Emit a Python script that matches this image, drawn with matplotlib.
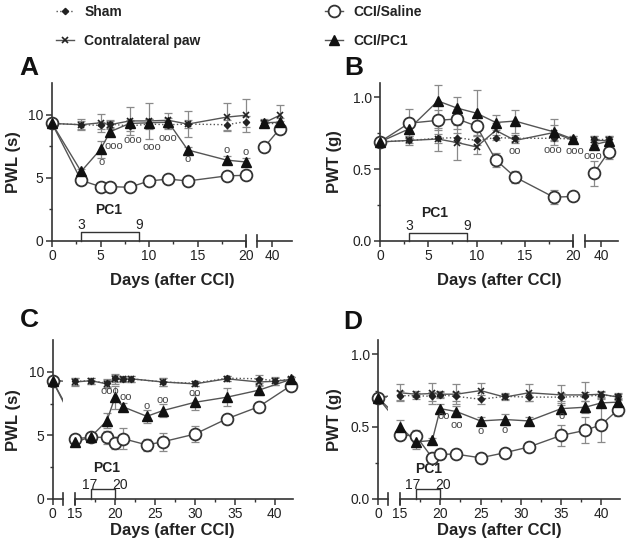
import matplotlib
matplotlib.use('Agg')
import matplotlib.pyplot as plt
from matplotlib.lines import Line2D

plt.rcParams['font.family'] = ['Liberation Sans', 'DejaVu Sans']

# ---------------- data ----------------
# Panel A (PWL, s)
daysA = [0, 3, 5, 6, 8, 10, 12, 14, 18, 20]
daysA2 = [38, 42]
shamA = [9.3, 9.2, 9.15, 9.25, 9.1, 9.25, 9.2, 9.25, 9.2, 9.45]
shamA2 = [9.3, 9.3]
shamA_err = [0.15, 0.3, 0.3, 0.3, 0.4, 0.4, 0.3, 0.3, 0.4, 0.4]
shamA2_err = [0.2, 0.2]
contraA = [9.3, 9.2, 9.35, 9.2, 9.5, 9.5, 9.55, 9.25, 9.8, 9.95]
contraA2 = [9.35, 9.95]
contraA_err = [0.15, 0.45, 0.7, 0.3, 1.1, 1.45, 0.6, 1.0, 1.1, 1.3]
contraA2_err = [0.3, 0.8]
salineA = [9.3, 4.8, 4.3, 4.3, 4.25, 4.75, 4.9, 4.75, 5.15, 5.2]
salineA2 = [7.4, 8.9]
salineA_err = [0.15, 0.15, 0.12, 0.12, 0.12, 0.15, 0.15, 0.12, 0.25, 0.2]
salineA2_err = [0.2, 0.3]
pc1A = [9.3, 5.5, 7.25, 8.65, 9.3, 9.35, 9.4, 7.2, 6.4, 6.25]
pc1A2 = [9.35, 9.4]
pc1A_err = [0.15, 0.2, 0.7, 0.35, 0.3, 0.3, 0.3, 0.25, 0.3, 0.35]
pc1A2_err = [0.2, 0.3]
annA_x = [5.1, 6.4, 8.3, 10.3, 11.9, 14.0, 18.0, 20.0]
annA_y = [6.25, 7.5, 7.97, 7.45, 8.15, 6.45, 7.2, 7.05]
annA_t = ['o', 'ooo', 'ooo', 'ooo', 'ooo', 'o', 'o', 'o']

# Panel B (PWT, g)
daysB = [0, 3, 6, 8, 10, 12, 14, 18, 20]
daysB2 = [38, 42]
shamB = [0.69, 0.70, 0.715, 0.72, 0.70, 0.72, 0.715, 0.715, 0.71]
shamB2 = [0.71, 0.71]
shamB_err = [0.02, 0.02, 0.03, 0.03, 0.03, 0.02, 0.02, 0.02, 0.02]
shamB2_err = [0.02, 0.02]
contraB = [0.69, 0.70, 0.71, 0.685, 0.655, 0.77, 0.70, 0.755, 0.70]
contraB2 = [0.70, 0.70]
contraB_err = [0.02, 0.03, 0.08, 0.12, 0.05, 0.05, 0.02, 0.05, 0.02]
contraB2_err = [0.03, 0.03]
salineB = [0.69, 0.82, 0.84, 0.85, 0.80, 0.565, 0.445, 0.305, 0.31]
salineB2 = [0.47, 0.62]
salineB_err = [0.02, 0.1, 0.07, 0.07, 0.06, 0.05, 0.04, 0.05, 0.03]
salineB2_err = [0.09, 0.05]
pc1B = [0.69, 0.78, 0.975, 0.925, 0.89, 0.825, 0.835, 0.76, 0.71]
pc1B2 = [0.67, 0.695]
pc1B_err = [0.02, 0.05, 0.11, 0.08, 0.16, 0.05, 0.08, 0.09, 0.02]
pc1B2_err = [0.03, 0.03]
annB_x = [14.0, 17.9, 20.2]
annB_y = [0.63, 0.632, 0.625]
annB_t = ['oo', 'ooo', 'ooo']
annB2_x = [37.8]
annB2_y = [0.59]
annB2_t = ['ooo']

# Panel C (PWL, s)
daysC_ctl = [0, 15, 17, 19, 20, 21, 22, 26, 30, 34, 38, 40, 42]
shamC = [9.3, 9.25, 9.3, 9.1, 9.5, 9.45, 9.45, 9.2, 9.1, 9.5, 9.45, 9.3, 9.4]
shamC_err = [0.15, 0.3, 0.25, 0.3, 0.3, 0.2, 0.25, 0.3, 0.2, 0.2, 0.3, 0.3, 0.2]
contraC = [9.3, 9.2, 9.3, 9.05, 9.4, 9.4, 9.45, 9.2, 9.05, 9.45, 9.2, 9.25, 9.4]
contraC_err = [0.15, 0.3, 0.25, 0.3, 0.35, 0.2, 0.25, 0.3, 0.2, 0.2, 0.3, 0.3, 0.2]
daysC = [0, 15, 17, 19, 20, 21, 24, 26, 30, 34, 38, 42]
salineC = [9.3, 4.75, 4.85, 4.85, 4.4, 4.75, 4.25, 4.5, 5.1, 6.3, 7.25, 8.9]
salineC_err = [0.15, 0.25, 0.2, 0.5, 0.5, 0.8, 0.5, 0.7, 0.6, 0.3, 0.3, 0.3]
pc1C = [9.3, 4.45, 4.9, 6.15, 8.0, 7.25, 6.5, 6.95, 7.6, 8.0, 8.55, 9.4]
pc1C_err = [0.15, 0.2, 0.2, 0.6, 0.9, 0.3, 0.5, 0.5, 0.6, 0.7, 0.4, 0.2]
annC_x = [19.4, 21.3, 24.0, 26.0, 30.0]
annC_y = [8.5, 8.0, 7.35, 7.75, 8.35]
annC_t = ['ooo', 'oo', 'o', 'oo', 'oo']

# Panel D (PWT, g)
daysD = [0, 15, 17, 19, 20, 22, 25, 28, 31, 35, 38, 40, 42]
shamD = [0.70, 0.715, 0.715, 0.71, 0.72, 0.71, 0.69, 0.71, 0.705, 0.705, 0.71, 0.72, 0.71]
shamD_err = [0.01, 0.03, 0.02, 0.03, 0.02, 0.03, 0.03, 0.02, 0.03, 0.03, 0.03, 0.02, 0.02]
contraD = [0.70, 0.735, 0.725, 0.73, 0.725, 0.725, 0.75, 0.705, 0.735, 0.72, 0.72, 0.725, 0.705]
contraD_err = [0.01, 0.06, 0.02, 0.07, 0.02, 0.07, 0.05, 0.02, 0.06, 0.07, 0.09, 0.02, 0.02]
salineD = [0.70, 0.445, 0.435, 0.285, 0.31, 0.31, 0.285, 0.32, 0.36, 0.44, 0.475, 0.515, 0.615]
salineD_err = [0.01, 0.04, 0.04, 0.02, 0.03, 0.02, 0.02, 0.02, 0.03, 0.07, 0.09, 0.12, 0.04]
pc1D = [0.70, 0.50, 0.395, 0.405, 0.625, 0.605, 0.54, 0.55, 0.54, 0.625, 0.635, 0.665, 0.67]
pc1D_err = [0.01, 0.05, 0.05, 0.02, 0.03, 0.04, 0.03, 0.04, 0.03, 0.04, 0.04, 0.03, 0.03]
annD_x = [20.4, 22.0, 25.0, 28.0, 35.0]
annD_y = [0.572, 0.515, 0.471, 0.476, 0.572]
annD_t = ['oo', 'oo', 'o', 'o', 'o']

labels = ['Sham', 'Contralateral paw', 'CCI/Saline', 'CCI/PC1']

# ---------------- styles ----------------
LINE = '#555555'
STY = {
    'sham': dict(ls=':', marker='D', ms=3.2, mfc='#222222', mec='#222222'),
    'contra': dict(ls='-', marker='x', ms=5, mec='#222222', mew=1.2),
    'saline': dict(ls='-', marker='o', ms=8.5, mfc='white', mec='#333333', mew=1.3),
    'pc1': dict(ls='-', marker='^', ms=7, mfc='#111111', mec='#111111'),
}
ORDER = {'sham': 5, 'contra': 5.5, 'saline': 6, 'pc1': 7}

W, H = 629, 556
fig = plt.figure(figsize=(W / 100, H / 100), dpi=100)


def add_ax(l, r, top, bot):
    return fig.add_axes([l / W, (H - bot) / H, (r - l) / W, (bot - top) / H])


def series(ax, x, y, e, key, xlim):
    st = STY[key]
    inside = [i for i, v in enumerate(x) if xlim[0] - 1e-9 <= v <= xlim[1] + 1e-9]
    xi = [x[i] for i in inside]
    yi = [y[i] for i in inside]
    ei = [e[i] for i in inside]
    if xi:
        c = ax.errorbar(xi, yi, yerr=ei, fmt='none', ecolor='#8a8a8a',
                        elinewidth=0.9, capsize=3, capthick=0.9, zorder=2)
        for a in list(c.lines[1]) + list(c.lines[2]):
            a.set_clip_on(False)
    ax.plot(x, y, color=LINE, lw=1.0, ls=st['ls'], zorder=3, clip_on=True)
    if xi:
        kw = {k: v for k, v in st.items() if k != 'ls'}
        ax.plot(xi, yi, ls='none', zorder=ORDER[key], clip_on=False, **kw)


def style_ax(ax, left_spine=True):
    for s in ['top', 'right']:
        ax.spines[s].set_visible(False)
    for s in ['left', 'bottom']:
        ax.spines[s].set_linewidth(1.2)
        ax.spines[s].set_color('#333333')
    ax.tick_params(which='major', direction='out', length=4, width=1.1,
                   color='#333333', labelsize=10, pad=2, labelcolor='#222222')
    ax.tick_params(which='minor', direction='out', length=2.5, width=1.0,
                   color='#333333')
    if not left_spine:
        ax.spines['left'].set_visible(False)
        ax.set_yticks([])
    ax.patch.set_alpha(0)


def cap(ax, side):
    ax.plot([side, side], [-0.035, 0.035], transform=ax.transAxes,
            color='#333333', lw=1.2, clip_on=False, zorder=10)


def annotate(ax, xs, ys, ts):
    for xv, yv, t in zip(xs, ys, ts):
        ax.text(xv, yv, t, fontsize=8, color='#444444', ha='center',
                va='center', clip_on=False, zorder=8)


def bracket(ax, x0, x1, h, ty, py, pcx, l0, l1, lx0, lx1):
    ax.plot([x0, x0, x1, x1], [0, h, h, 0], color='#333333', lw=1.0,
            clip_on=False, zorder=4)
    ax.text(lx0, ty, l0, fontsize=10, ha='center', va='center', color='#222222')
    ax.text(lx1, ty, l1, fontsize=10, ha='center', va='center', color='#222222')
    ax.text(pcx, py, 'PC1', fontsize=10, fontweight='bold', ha='center',
            va='center', color='#222222')


# ---------------- Panel A ----------------
A1xl, A2xl = (0, 20), (36.25, 45)
axA1 = add_ax(52, 246, 83, 241)
axA2 = add_ax(257, 292, 83, 241)
for ax, xl in [(axA1, A1xl), (axA2, A2xl)]:
    ax.set_xlim(*xl)
    ax.set_ylim(0, 12.5)
style_ax(axA1)
style_ax(axA2, left_spine=False)
axA1.set_xticks([0, 5, 10, 15, 20])
axA1.set_xticks([2.5, 7.5, 12.5, 17.5], minor=True)
axA1.set_yticks([0, 5, 10])
axA1.set_yticks([2.5, 7.5], minor=True)
axA2.set_xticks([40])
cap(axA1, 1)
cap(axA2, 0)
series(axA1, daysA, shamA, shamA_err, 'sham', A1xl)
series(axA1, daysA, contraA, contraA_err, 'contra', A1xl)
series(axA1, daysA, salineA, salineA_err, 'saline', A1xl)
series(axA1, daysA, pc1A, pc1A_err, 'pc1', A1xl)
series(axA2, daysA2, shamA2, shamA2_err, 'sham', A2xl)
series(axA2, daysA2, contraA2, contraA2_err, 'contra', A2xl)
series(axA2, daysA2, salineA2, salineA2_err, 'saline', A2xl)
series(axA2, daysA2, pc1A2, pc1A2_err, 'pc1', A2xl)
annotate(axA1, annA_x, annA_y, annA_t)
bracket(axA1, 3, 9, 0.73, 1.3, 2.45, 5.8, '3', '9', 3, 9)

# ---------------- Panel B ----------------
B1xl, B2xl = (0, 20), (35.7, 44.5)
axB1 = add_ax(380, 573, 83, 241)
axB2 = add_ax(585, 618, 83, 241)
for ax, xl in [(axB1, B1xl), (axB2, B2xl)]:
    ax.set_xlim(*xl)
    ax.set_ylim(0, 1.1)
style_ax(axB1)
style_ax(axB2, left_spine=False)
axB1.set_xticks([0, 5, 10, 15, 20])
axB1.set_xticks([2.5, 7.5, 12.5, 17.5], minor=True)
axB1.set_yticks([0, 0.5, 1.0])
axB1.set_yticklabels(['0.0', '0.5', '1.0'])
axB1.set_yticks([0.25, 0.75], minor=True)
axB2.set_xticks([40])
cap(axB1, 1)
cap(axB2, 0)
series(axB1, daysB, shamB, shamB_err, 'sham', B1xl)
series(axB1, daysB, contraB, contraB_err, 'contra', B1xl)
series(axB1, daysB, salineB, salineB_err, 'saline', B1xl)
series(axB1, daysB, pc1B, pc1B_err, 'pc1', B1xl)
series(axB2, daysB2, shamB2, shamB2_err, 'sham', B2xl)
series(axB2, daysB2, contraB2, contraB2_err, 'contra', B2xl)
series(axB2, daysB2, salineB2, salineB2_err, 'saline', B2xl)
series(axB2, daysB2, pc1B2, pc1B2_err, 'pc1', B2xl)
annotate(axB1, annB_x, annB_y, annB_t)
annotate(axB2, annB2_x, annB2_y, annB2_t)
bracket(axB1, 3, 9, 0.057, 0.105, 0.195, 5.7, '3', '9', 3, 9)

# ---------------- Panel C ----------------
C1xl, C2xl = (0, 5), (15, 42.3)
axC1 = add_ax(52.5, 63, 340, 499)
axC2 = add_ax(75, 293, 340, 499)
for ax, xl in [(axC1, C1xl), (axC2, C2xl)]:
    ax.set_xlim(*xl)
    ax.set_ylim(0, 12.5)
style_ax(axC1)
style_ax(axC2, left_spine=False)
axC1.set_xticks([0])
axC1.set_yticks([0, 5, 10])
axC1.set_yticks([2.5, 7.5], minor=True)
axC2.set_xticks([15, 20, 25, 30, 35, 40])
axC2.set_xticks([17.5, 22.5, 27.5, 32.5, 37.5], minor=True)
cap(axC1, 1)
cap(axC2, 0)
for ax, xl in [(axC1, C1xl), (axC2, C2xl)]:
    series(ax, daysC_ctl, shamC, shamC_err, 'sham', xl)
    series(ax, daysC_ctl, contraC, contraC_err, 'contra', xl)
    series(ax, daysC, salineC, salineC_err, 'saline', xl)
    series(ax, daysC, pc1C, pc1C_err, 'pc1', xl)
annotate(axC2, annC_x, annC_y, annC_t)
bracket(axC2, 17, 20, 0.76, 1.1, 2.4, 19.0, '17', '20', 16.9, 20.6)

# ---------------- Panel D ----------------
D1xl, D2xl = (0, 5), (15, 42.3)
axD1 = add_ax(378, 388, 340, 499)
axD2 = add_ax(400, 620, 340, 499)
for ax, xl in [(axD1, D1xl), (axD2, D2xl)]:
    ax.set_xlim(*xl)
    ax.set_ylim(0, 1.1)
style_ax(axD1)
style_ax(axD2, left_spine=False)
axD1.set_xticks([0])
axD1.set_yticks([0, 0.5, 1.0])
axD1.set_yticklabels(['0.0', '0.5', '1.0'])
axD1.set_yticks([0.25, 0.75], minor=True)
axD2.set_xticks([15, 20, 25, 30, 35, 40])
axD2.set_xticks([17.5, 22.5, 27.5, 32.5, 37.5], minor=True)
cap(axD1, 1)
cap(axD2, 0)
for ax, xl in [(axD1, D1xl), (axD2, D2xl)]:
    series(ax, daysD, shamD, shamD_err, 'sham', xl)
    series(ax, daysD, contraD, contraD_err, 'contra', xl)
    series(ax, daysD, salineD, salineD_err, 'saline', xl)
    series(ax, daysD, pc1D, pc1D_err, 'pc1', xl)
annotate(axD2, annD_x, annD_y, annD_t)
bracket(axD2, 17, 20, 0.067, 0.097, 0.21, 18.5, '17', '20', 16.6, 20.4)

# ---------------- labels ----------------
def ftext(x, y, s, **kw):
    fig.text(x / W, (H - y) / H, s, **kw)

lab = dict(fontsize=12, fontweight='bold', ha='center', va='center', color='#222222')
ftext(14, 162, 'PWL (s)', rotation=90, **lab)
ftext(334, 162, 'PWT (g)', rotation=90, **lab)
ftext(14, 420, 'PWL (s)', rotation=90, **lab)
ftext(334, 420, 'PWT (g)', rotation=90, **lab)
ftext(172, 281, 'Days (after CCI)', **lab)
ftext(499, 281, 'Days (after CCI)', **lab)
ftext(172, 531, 'Days (after CCI)', **lab)
ftext(499, 531, 'Days (after CCI)', **lab)

pl = dict(fontsize=19, fontweight='bold', ha='center', va='center', color='#111111')
ftext(29, 68, 'A', **pl)
ftext(354, 68, 'B', **pl)
ftext(29, 320, 'C', **pl)
ftext(353, 322, 'D', **pl)

# ---------------- legend ----------------
def handle(key, label):
    st = STY[key]
    return Line2D([], [], color=LINE, lw=1.0, label=label, **st)

keys = ['sham', 'contra', 'saline', 'pc1']
hs = [handle(k, l) for k, l in zip(keys, labels)]
legkw = dict(frameon=False, loc='upper left', borderpad=0, borderaxespad=0,
             handlelength=1.3, handletextpad=0.75, labelspacing=1.05,
             prop={'weight': 'bold', 'size': 10})
leg1 = fig.legend(handles=hs[:2], bbox_to_anchor=(56 / W, (H - 5) / H), **legkw)
leg2 = fig.legend(handles=hs[2:], bbox_to_anchor=(325 / W, (H - 5) / H), **legkw)
for lg in (leg1, leg2):
    for t in lg.get_texts():
        t.set_color('#222222')

fig.savefig('out.png', dpi=100)
